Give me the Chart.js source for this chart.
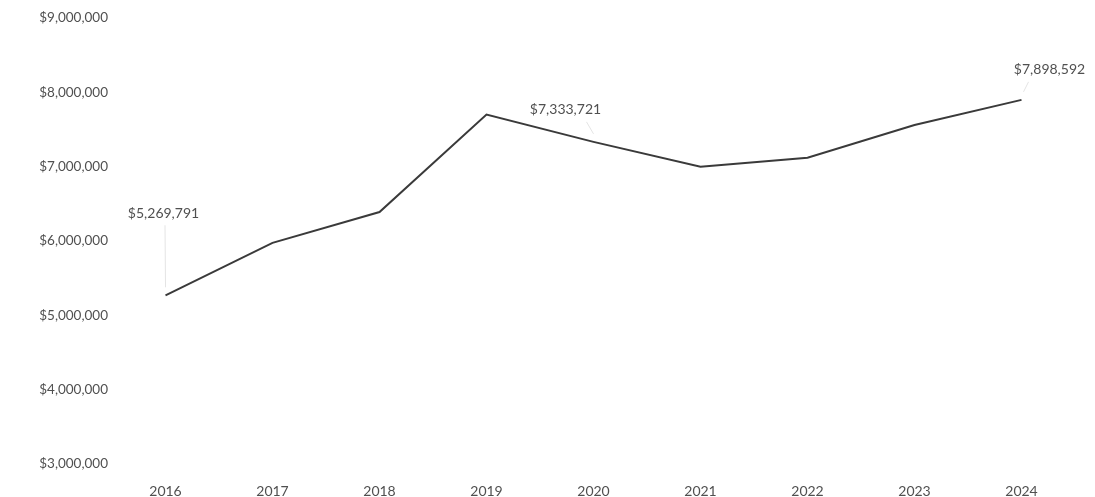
<!DOCTYPE html>
<html><head><meta charset="utf-8">
<script src="https://cdn.jsdelivr.net/npm/chart.js@4"></script>
<style>html,body{margin:0;padding:0;background:#fff}#wrap{width:1095px;height:497px}</style>
</head><body><div id="wrap"><canvas id="c"></canvas></div>
<script>
const years = ['2016','2017','2018','2019','2020','2021','2022','2023','2024'];
const revenue = [5269791, 5975000, 6390000, 7700000, 7333721, 7000000, 7120000, 7560000, 7898592];
const labeledIdx = [0, 4, 8];
const yTicks = [3000000,4000000,5000000,6000000,7000000,8000000,9000000];

const FONT = 'Lato, "Open Sans", sans-serif';
const fmt = v => '$' + Math.round(v).toLocaleString('en-US');
const labelOffsets = {0:[-2,-82], 4:[-28,-32], 8:[28,-30]};

const dataLabels = {
  id: 'dataLabels',
  afterDatasetsDraw(chart) {
    const ctx = chart.ctx;
    const meta = chart.getDatasetMeta(0);
    ctx.save();
    ctx.font = '14px ' + FONT;
    ctx.fillStyle = '#505050';
    ctx.textAlign = 'center';
    ctx.textBaseline = 'middle';
    labeledIdx.forEach(i => {
      const p = meta.data[i];
      const [dx, dy] = labelOffsets[i];
      ctx.strokeStyle = '#e4e4e4';
      ctx.lineWidth = 1;
      ctx.beginPath();
      ctx.moveTo(p.x + (dx > 10 ? 2 : 0), p.y - 8);
      ctx.lineTo(p.x + dx * 0.25, p.y + dy + 12);
      ctx.stroke();
      ctx.fillText(fmt(revenue[i]), p.x + dx, p.y + dy);
    });
    ctx.restore();
  }
};

new Chart(document.getElementById('c'), {
  type: 'line',
  data: {
    labels: years,
    datasets: [{
      data: revenue,
      borderColor: '#3a3a3a',
      borderWidth: 2,
      pointRadius: 0,
      tension: 0,
      fill: false
    }]
  },
  options: {
    responsive: true,
    maintainAspectRatio: false,
    animation: false,
    layout: { padding: { top: 18, right: 20, left: 0, bottom: 0 } },
    plugins: { legend: { display: false }, tooltip: { enabled: false } },
    scales: {
      x: {
        offset: true,
        grid: { display: false, drawTicks: false },
        border: { display: false },
        ticks: { color: '#505050', font: { size: 14, family: FONT }, padding: 19, maxRotation: 0 },
        afterFit(s) { s.height = 33; }
      },
      y: {
        min: 3000000, max: 9000000,
        afterBuildTicks(s) { s.ticks = yTicks.map(v => ({ value: v })); },
        grid: { display: false, drawTicks: false },
        border: { display: false },
        ticks: { color: '#505050', font: { size: 13.5, family: FONT }, padding: 4, callback: v => fmt(v) },
        afterFit(s) { s.width = 112; }
      }
    }
  },
  plugins: [dataLabels]
});
</script></body></html>
